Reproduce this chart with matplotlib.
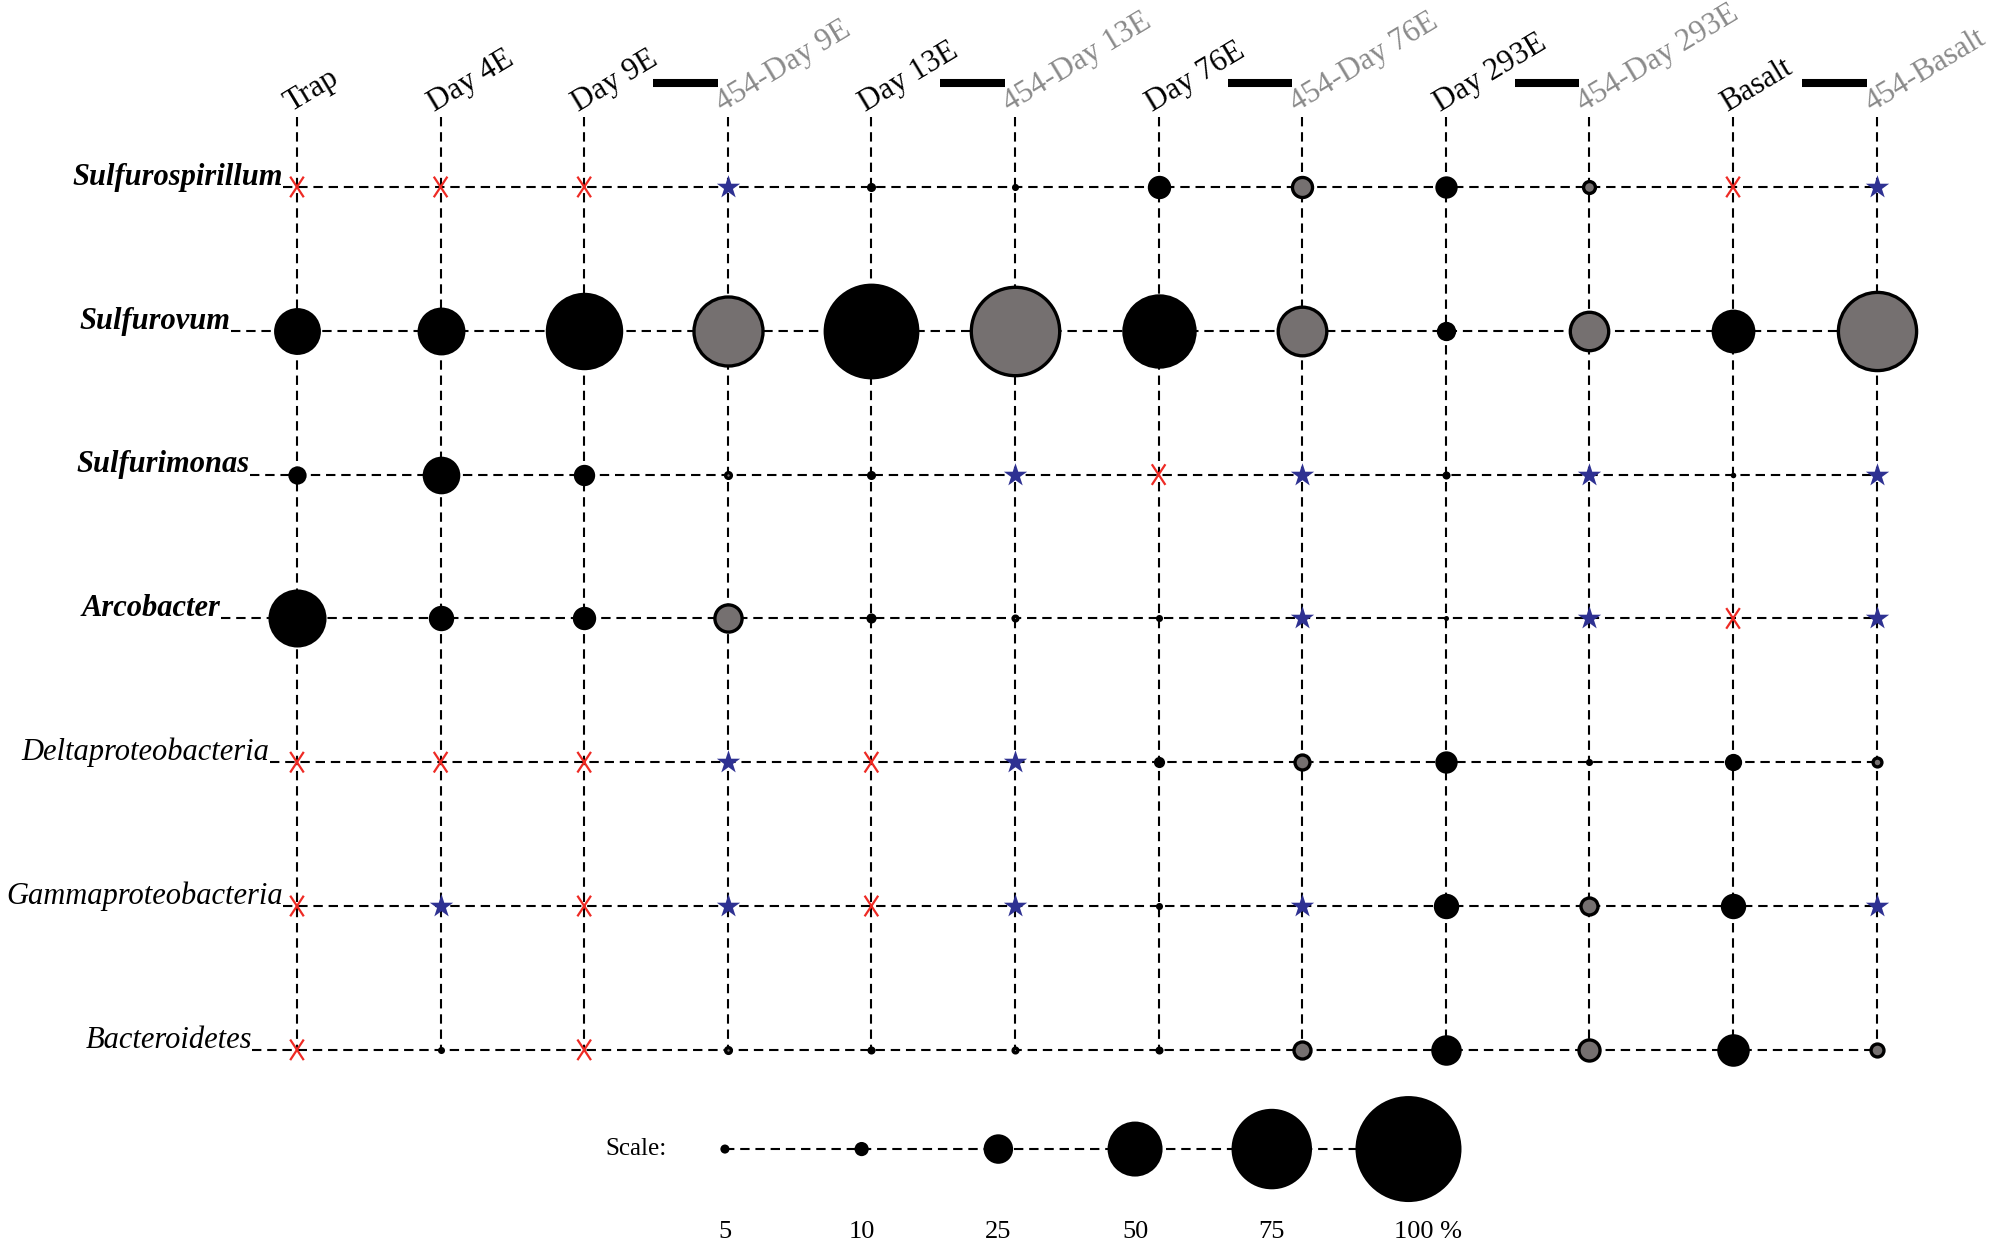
import numpy as np
import matplotlib.pyplot as plt
from matplotlib.path import Path

plt.rcParams['font.family'] = ['Liberation Serif', 'DejaVu Serif']

samples = ['Trap', 'Day 4E', 'Day 9E', '454-Day 9E', 'Day 13E', '454-Day 13E',
           'Day 76E', '454-Day 76E', 'Day 293E', '454-Day 293E', 'Basalt', '454-Basalt']
taxa = ['Sulfurospirillum', 'Sulfurovum', 'Sulfurimonas', 'Arcobacter',
        'Deltaproteobacteria', 'Gammaproteobacteria', 'Bacteroidetes']
bold_taxa = [True, True, True, True, False, False, False]

# 'x' = red cross, 's' = blue star, number = relative abundance (%)
sulfurospirillum = ['x', 'x', 'x', 's', 5, 3, 19, 19, 18, 11, 'x', 's']
sulfurovum = [42, 43, 72, 67, 90, 86, 69, 47, 15, 37, 39, 76]
sulfurimonas = [14, 33, 17, 5, 5, 's', 'x', 's', 4, 's', 1.5, 's']
arcobacter = [53, 21, 19, 26, 6, 4, 3, 's', 1, 's', 'x', 's']
delta = ['x', 'x', 'x', 's', 'x', 's', 7, 14, 18, 3, 13, 8]
gamma = ['x', 's', 'x', 's', 'x', 's', 3, 's', 21, 16, 21, 's']
bacteroidetes = ['x', 3, 'x', 5, 4, 4, 4, 16, 26, 20, 28, 12]
abundance = [sulfurospirillum, sulfurovum, sulfurimonas, arcobacter, delta, gamma, bacteroidetes]

scale_values = [5, 10, 25, 50, 75, 100]
scale_labels = ['5', '10', '25', '50', '75', '100 %']

# layout (column / row units)
label_end = [-0.10, -0.46, -0.33, -0.53, -0.19, -0.10, -0.31]
scale_x = 2.98 + 0.952 * np.arange(len(scale_values))
scale_y = 6.69

gray = '#757070'
red = '#ee2a24'
blue = '#2e3192'
px = 200 / 72.0
edge_lw = 1.2


def msize(v, lw=0.0):
    d = 1.02 * v + 4  # diameter in pixels
    return (d / px - lw) ** 2


fig = plt.figure(figsize=(10, 6.24), dpi=200)
ax = fig.add_axes([0, 0, 1, 1])
ax.set_xlim(-2.068, 11.859)
ax.set_ylim(7.378, -1.300)
ax.axis('off')

dash = (0, (4.5, 2.8))
ncol = len(samples)
nrow = len(taxa)

for i in range(ncol):
    ax.plot([i, i], [-0.487, nrow - 1], color='k', lw=0.75, ls=dash, zorder=1)
for r in range(nrow):
    ax.plot([label_end[r], ncol - 1], [r, r], color='k', lw=0.75, ls=dash, zorder=1)

xmark = Path([(-0.33, -0.5), (0.33, 0.5), (-0.33, 0.5), (0.33, -0.5)],
             [Path.MOVETO, Path.LINETO, Path.MOVETO, Path.LINETO])

for r, row in enumerate(abundance):
    for i, v in enumerate(row):
        is454 = samples[i].startswith('454')
        if v == 'x':
            ax.scatter(i, r, s=55, marker=xmark, facecolors='none', edgecolors=red,
                       linewidths=0.8, zorder=3)
        elif v == 's':
            ax.scatter(i, r, s=78, marker='*', color=blue, linewidths=0, zorder=3)
        elif is454:
            ax.scatter(i, r, s=msize(v, edge_lw), color=gray, edgecolors='k',
                       linewidths=edge_lw, zorder=3)
        else:
            ax.scatter(i, r, s=msize(v), color='k', linewidths=0, zorder=3)

# column labels and pair bars
for i, name in enumerate(samples):
    is454 = name.startswith('454')
    ax.text(i - 0.04, -0.52, name, rotation=31, rotation_mode='anchor',
            ha='left', va='baseline', fontsize=11.2,
            color='#8a8a8a' if is454 else 'k')
    if is454:
        ax.plot([i - 1 + 0.48, i - 0.07], [-0.723, -0.723], color='k', lw=2.9,
                solid_capstyle='butt')

# row labels
for r, name in enumerate(taxa):
    ax.text(label_end[r], r - 0.015, name, ha='right', va='baseline', fontsize=11,
            style='italic', weight='bold' if bold_taxa[r] else 'normal')

# scale
ax.plot(scale_x, [scale_y] * len(scale_x), color='k', lw=0.75, ls=dash, zorder=1)
ax.scatter(scale_x, [scale_y] * len(scale_x), s=[msize(v) for v in scale_values],
           color='k', linewidths=0, zorder=3)
ax.text(2.577, scale_y, 'Scale:', ha='right', va='center', fontsize=9)
for k, lab in enumerate(scale_labels):
    if lab.endswith('%'):
        ax.text(scale_x[k] - 0.1, 7.27, lab, ha='left', va='center', fontsize=9.5)
    else:
        ax.text(scale_x[k], 7.27, lab, ha='center', va='center', fontsize=9.5)

fig.savefig('out.png', dpi=200, facecolor='white')
